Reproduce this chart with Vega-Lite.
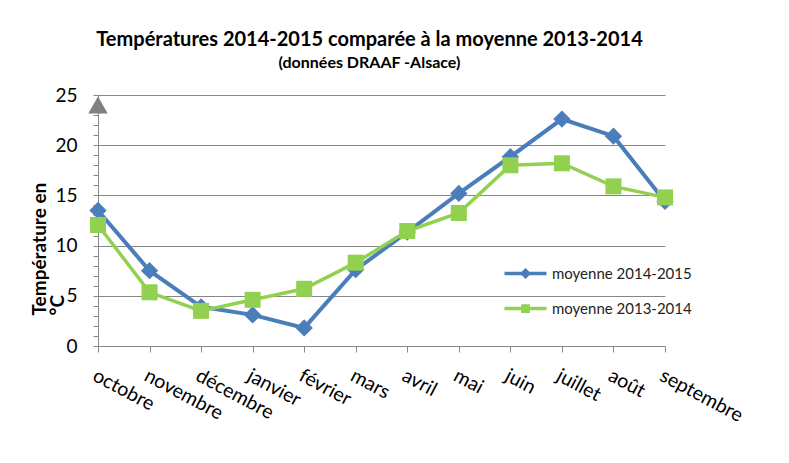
{
  "$schema": "https://vega.github.io/schema/vega-lite/v6.json",
  "width": 567,
  "height": 251,
  "autosize": {"type": "none"},
  "padding": {"left": 98, "top": 95, "right": 124, "bottom": 117},
  "background": "white",
  "title": {
    "text": "Températures 2014-2015 comparée à la moyenne 2013-2014",
    "subtitle": "(données DRAAF -Alsace)",
    "anchor": "middle",
    "frame": "group",
    "dx": -12,
    "offset": 15,
    "font": "Lato",
    "fontSize": 20,
    "fontWeight": "bold",
    "color": "#000000",
    "subtitleFont": "Lato",
    "subtitleFontSize": 16,
    "subtitleFontWeight": "bold",
    "subtitleColor": "#000000",
    "subtitlePadding": 5
  },
  "config": {
    "view": {"stroke": null},
    "font": "Lato"
  },
  "datasets": {
    "temps": [
      {"mois": "octobre", "serie": "moyenne 2014-2015", "t": 13.5},
      {"mois": "novembre", "serie": "moyenne 2014-2015", "t": 7.5},
      {"mois": "décembre", "serie": "moyenne 2014-2015", "t": 3.9},
      {"mois": "janvier", "serie": "moyenne 2014-2015", "t": 3.1},
      {"mois": "février", "serie": "moyenne 2014-2015", "t": 1.8},
      {"mois": "mars", "serie": "moyenne 2014-2015", "t": 7.6},
      {"mois": "avril", "serie": "moyenne 2014-2015", "t": 11.35},
      {"mois": "mai", "serie": "moyenne 2014-2015", "t": 15.2},
      {"mois": "juin", "serie": "moyenne 2014-2015", "t": 18.85},
      {"mois": "juillet", "serie": "moyenne 2014-2015", "t": 22.6},
      {"mois": "août", "serie": "moyenne 2014-2015", "t": 20.9},
      {"mois": "septembre", "serie": "moyenne 2014-2015", "t": 14.4},
      {"mois": "octobre", "serie": "moyenne 2013-2014", "t": 12.05},
      {"mois": "novembre", "serie": "moyenne 2013-2014", "t": 5.35},
      {"mois": "décembre", "serie": "moyenne 2013-2014", "t": 3.5},
      {"mois": "janvier", "serie": "moyenne 2013-2014", "t": 4.6},
      {"mois": "février", "serie": "moyenne 2013-2014", "t": 5.7},
      {"mois": "mars", "serie": "moyenne 2013-2014", "t": 8.3},
      {"mois": "avril", "serie": "moyenne 2013-2014", "t": 11.45},
      {"mois": "mai", "serie": "moyenne 2013-2014", "t": 13.25},
      {"mois": "juin", "serie": "moyenne 2013-2014", "t": 18.0},
      {"mois": "juillet", "serie": "moyenne 2013-2014", "t": 18.2},
      {"mois": "août", "serie": "moyenne 2013-2014", "t": 15.9},
      {"mois": "septembre", "serie": "moyenne 2013-2014", "t": 14.8}
    ],
    "fleche": [{"mois": "octobre", "t": 24.0}]
  },
  "data": {"name": "temps"},
  "encoding": {
    "x": {
      "field": "mois",
      "type": "ordinal",
      "sort": null,
      "scale": {"type": "point", "padding": 0},
      "axis": {
        "title": null,
        "labelAngle": 28,
        "labelAlign": "left",
        "labelBaseline": "top",
        "labelPadding": 14,
        "labelFont": "Lato",
        "labelFontSize": 19.5,
        "labelColor": "#000000",
        "labelOverlap": false,
        "domainColor": "#868686",
        "tickColor": "#868686",
        "tickSize": 6,
        "grid": false
      }
    },
    "y": {
      "field": "t",
      "type": "quantitative",
      "scale": {"domain": [0, 25], "nice": false, "zero": true},
      "axis": {
        "values": [0,1,2,3,4,5,6,7,8,9,10,11,12,13,14,15,16,17,18,19,20,21,22,23,24,25],
        "labelExpr": "datum.value % 5 === 0 ? datum.label : ''",
        "labelOverlap": false,
        "labelFont": "Lato",
        "labelFontSize": 19,
        "labelColor": "#000000",
        "labelPadding": 16,
        "tickSize": 5,
        "tickColor": "#868686",
        "domainColor": "#868686",
        "grid": true,
        "gridColor": "#868686",
        "gridOpacity": {"condition": {"test": "datum.value % 5 === 0 && datum.value > 0", "value": 1}, "value": 0},
        "title": ["Température en", "°C"],
        "titleFont": "Lato",
        "titleFontSize": 19,
        "titleFontWeight": "bold",
        "titleColor": "#000000",
        "titleAngle": -90,
        "titleAlign": "left",
        "titleAnchor": null,
        "titleBaseline": "alphabetic",
        "titleX": -53,
        "titleY": 220,
        "titleLineHeight": 18
      }
    },
    "color": {
      "field": "serie",
      "type": "nominal",
      "scale": {"domain": ["moyenne 2014-2015", "moyenne 2013-2014"], "range": ["#4A7EBB", "#92D050"]},
      "legend": {
        "title": null,
        "orient": "none",
        "legendX": 415,
        "legendY": 166,
        "padding": 0,
        "symbolSize": 441,
        "symbolStrokeWidth": 3.5,
        "labelFont": "Lato",
        "labelFontSize": 15,
        "labelColor": "#222222",
        "labelOffset": 14,
        "rowPadding": 12,
        "encode": {
          "symbols": {
            "update": {
              "shape": {"signal": "datum.value === 'moyenne 2014-2015' ? 'M-2,0H2M-0.3,0L0,-0.3L0.3,0L0,0.3Z' : 'M-2,0H2M-0.25,-0.25H0.25V0.25H-0.25Z'"},
              "fill": {"scale": "color", "field": "value"},
              "stroke": {"scale": "color", "field": "value"},
              "fillOpacity": {"value": 1},
              "strokeWidth": {"value": 3.5}
            }
          }
        }
      }
    }
  },
  "layer": [
    {
      "transform": [{"filter": "datum.serie === 'moyenne 2014-2015'"}],
      "mark": {"type": "line", "strokeWidth": 4}
    },
    {
      "transform": [{"filter": "datum.serie === 'moyenne 2014-2015'"}],
      "mark": {"type": "point", "shape": "diamond", "filled": true, "opacity": 1, "size": 300}
    },
    {
      "transform": [{"filter": "datum.serie === 'moyenne 2013-2014'"}],
      "mark": {"type": "line", "strokeWidth": 3.5}
    },
    {
      "transform": [{"filter": "datum.serie === 'moyenne 2013-2014'"}],
      "mark": {"type": "point", "shape": "square", "filled": true, "opacity": 1, "size": 256}
    },
    {
      "data": {"name": "fleche"},
      "mark": {"type": "point", "shape": "triangle-up", "filled": true, "opacity": 1, "size": 380, "color": "#808080"},
      "encoding": {
        "x": {"field": "mois", "type": "ordinal", "sort": null},
        "y": {"field": "t", "type": "quantitative"},
        "color": {"value": "#808080"}
      }
    }
  ]
}
